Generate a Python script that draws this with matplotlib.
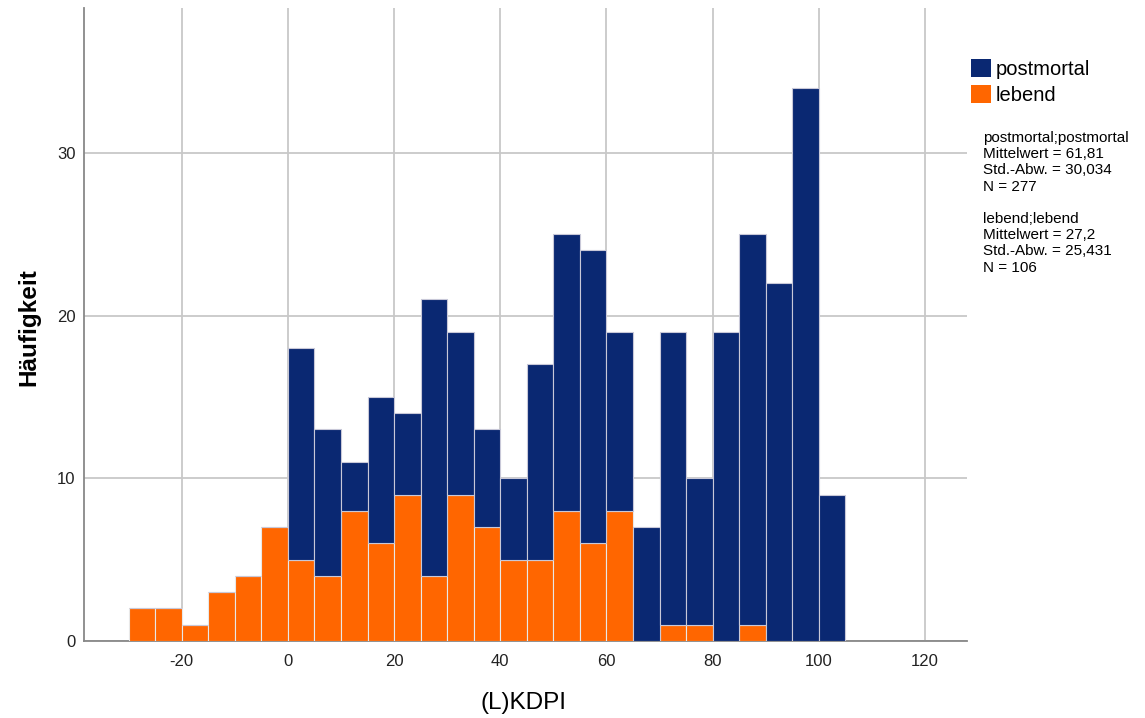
import matplotlib
matplotlib.use("Agg")
import matplotlib.pyplot as plt
from matplotlib.patches import Patch

plt.rcParams['font.family'] = ['Liberation Sans', 'DejaVu Sans']

bin_starts = [-30, -25, -20, -15, -10, -5, 0, 5, 10, 15, 20, 25, 30, 35, 40, 45,
              50, 55, 60, 65, 70, 75, 80, 85, 90, 95, 100]
lebend = [2, 2, 1, 3, 4, 7, 5, 4, 8, 6, 9, 4, 9, 7, 5, 5,
          8, 6, 8, 0, 1, 1, 0, 1, 0, 0, 0]
postmortal = [0, 0, 0, 0, 0, 0, 13, 9, 3, 9, 5, 17, 10, 6, 5, 12,
              17, 18, 11, 7, 18, 9, 19, 24, 22, 34, 9]
bin_width = 5
x_ticks = [-20, 0, 20, 40, 60, 80, 100, 120]
y_ticks = [0, 10, 20, 30]
stats_text = ("postmortal;postmortal\nMittelwert = 61,81\nStd.-Abw. = 30,034\nN = 277\n\n"
              "lebend;lebend\nMittelwert = 27,2\nStd.-Abw. = 25,431\nN = 106")

blue = '#0a2872'
orange = '#ff6600'

fig = plt.figure(figsize=(11.45, 7.18), dpi=100)
ax = fig.add_axes([84/1145, 1-641/718, (967-84)/1145, (641-8)/718])

ax.bar(bin_starts, lebend, width=bin_width, align='edge', color=orange,
       edgecolor='#e8e8e8', linewidth=0.8, zorder=3)
ax.bar(bin_starts, postmortal, width=bin_width, align='edge', bottom=lebend,
       color=blue, edgecolor='#c8c8d8', linewidth=0.8, zorder=3)

ax.set_xlim(-38.4, 127.9)
ax.set_ylim(0, 38.9)
ax.set_xticks(x_ticks)
ax.set_yticks(y_ticks)
ax.set_xticklabels([str(t) for t in x_ticks])
ax.grid(True, color='#c8c8c8', linewidth=1.3, zorder=0)
ax.set_axisbelow(True)
for s in ['top', 'right']:
    ax.spines[s].set_visible(False)
for s in ['left', 'bottom']:
    ax.spines[s].set_color('#888888')
    ax.spines[s].set_linewidth(1.3)
ax.tick_params(length=0, labelsize=12, colors='#222222')
ax.tick_params(axis='x', pad=9)
ax.tick_params(axis='y', pad=6)

fig.text(524/1145, 1-703/718, '(L)KDPI', fontsize=17.5, ha='center', va='center')
fig.text(29/1145, 1-327/718, 'Häufigkeit', fontsize=17.5, fontweight='bold',
         rotation=90, ha='center', va='center')

handles = [Patch(facecolor=blue, edgecolor='none'), Patch(facecolor=orange, edgecolor='none')]
fig.legend(handles, ['postmortal', 'lebend'], loc='upper left',
           bbox_to_anchor=(965/1145, 1-53/718), frameon=False, fontsize=14.5,
           handlelength=1.0, handleheight=1.0, handletextpad=0.2, labelspacing=0.3,
           borderaxespad=0, borderpad=0.3)

fig.text(983/1145, 1-131/718, stats_text, fontsize=11, ha='left', va='top',
         linespacing=1.2)

fig.savefig('out.png', dpi=100)
